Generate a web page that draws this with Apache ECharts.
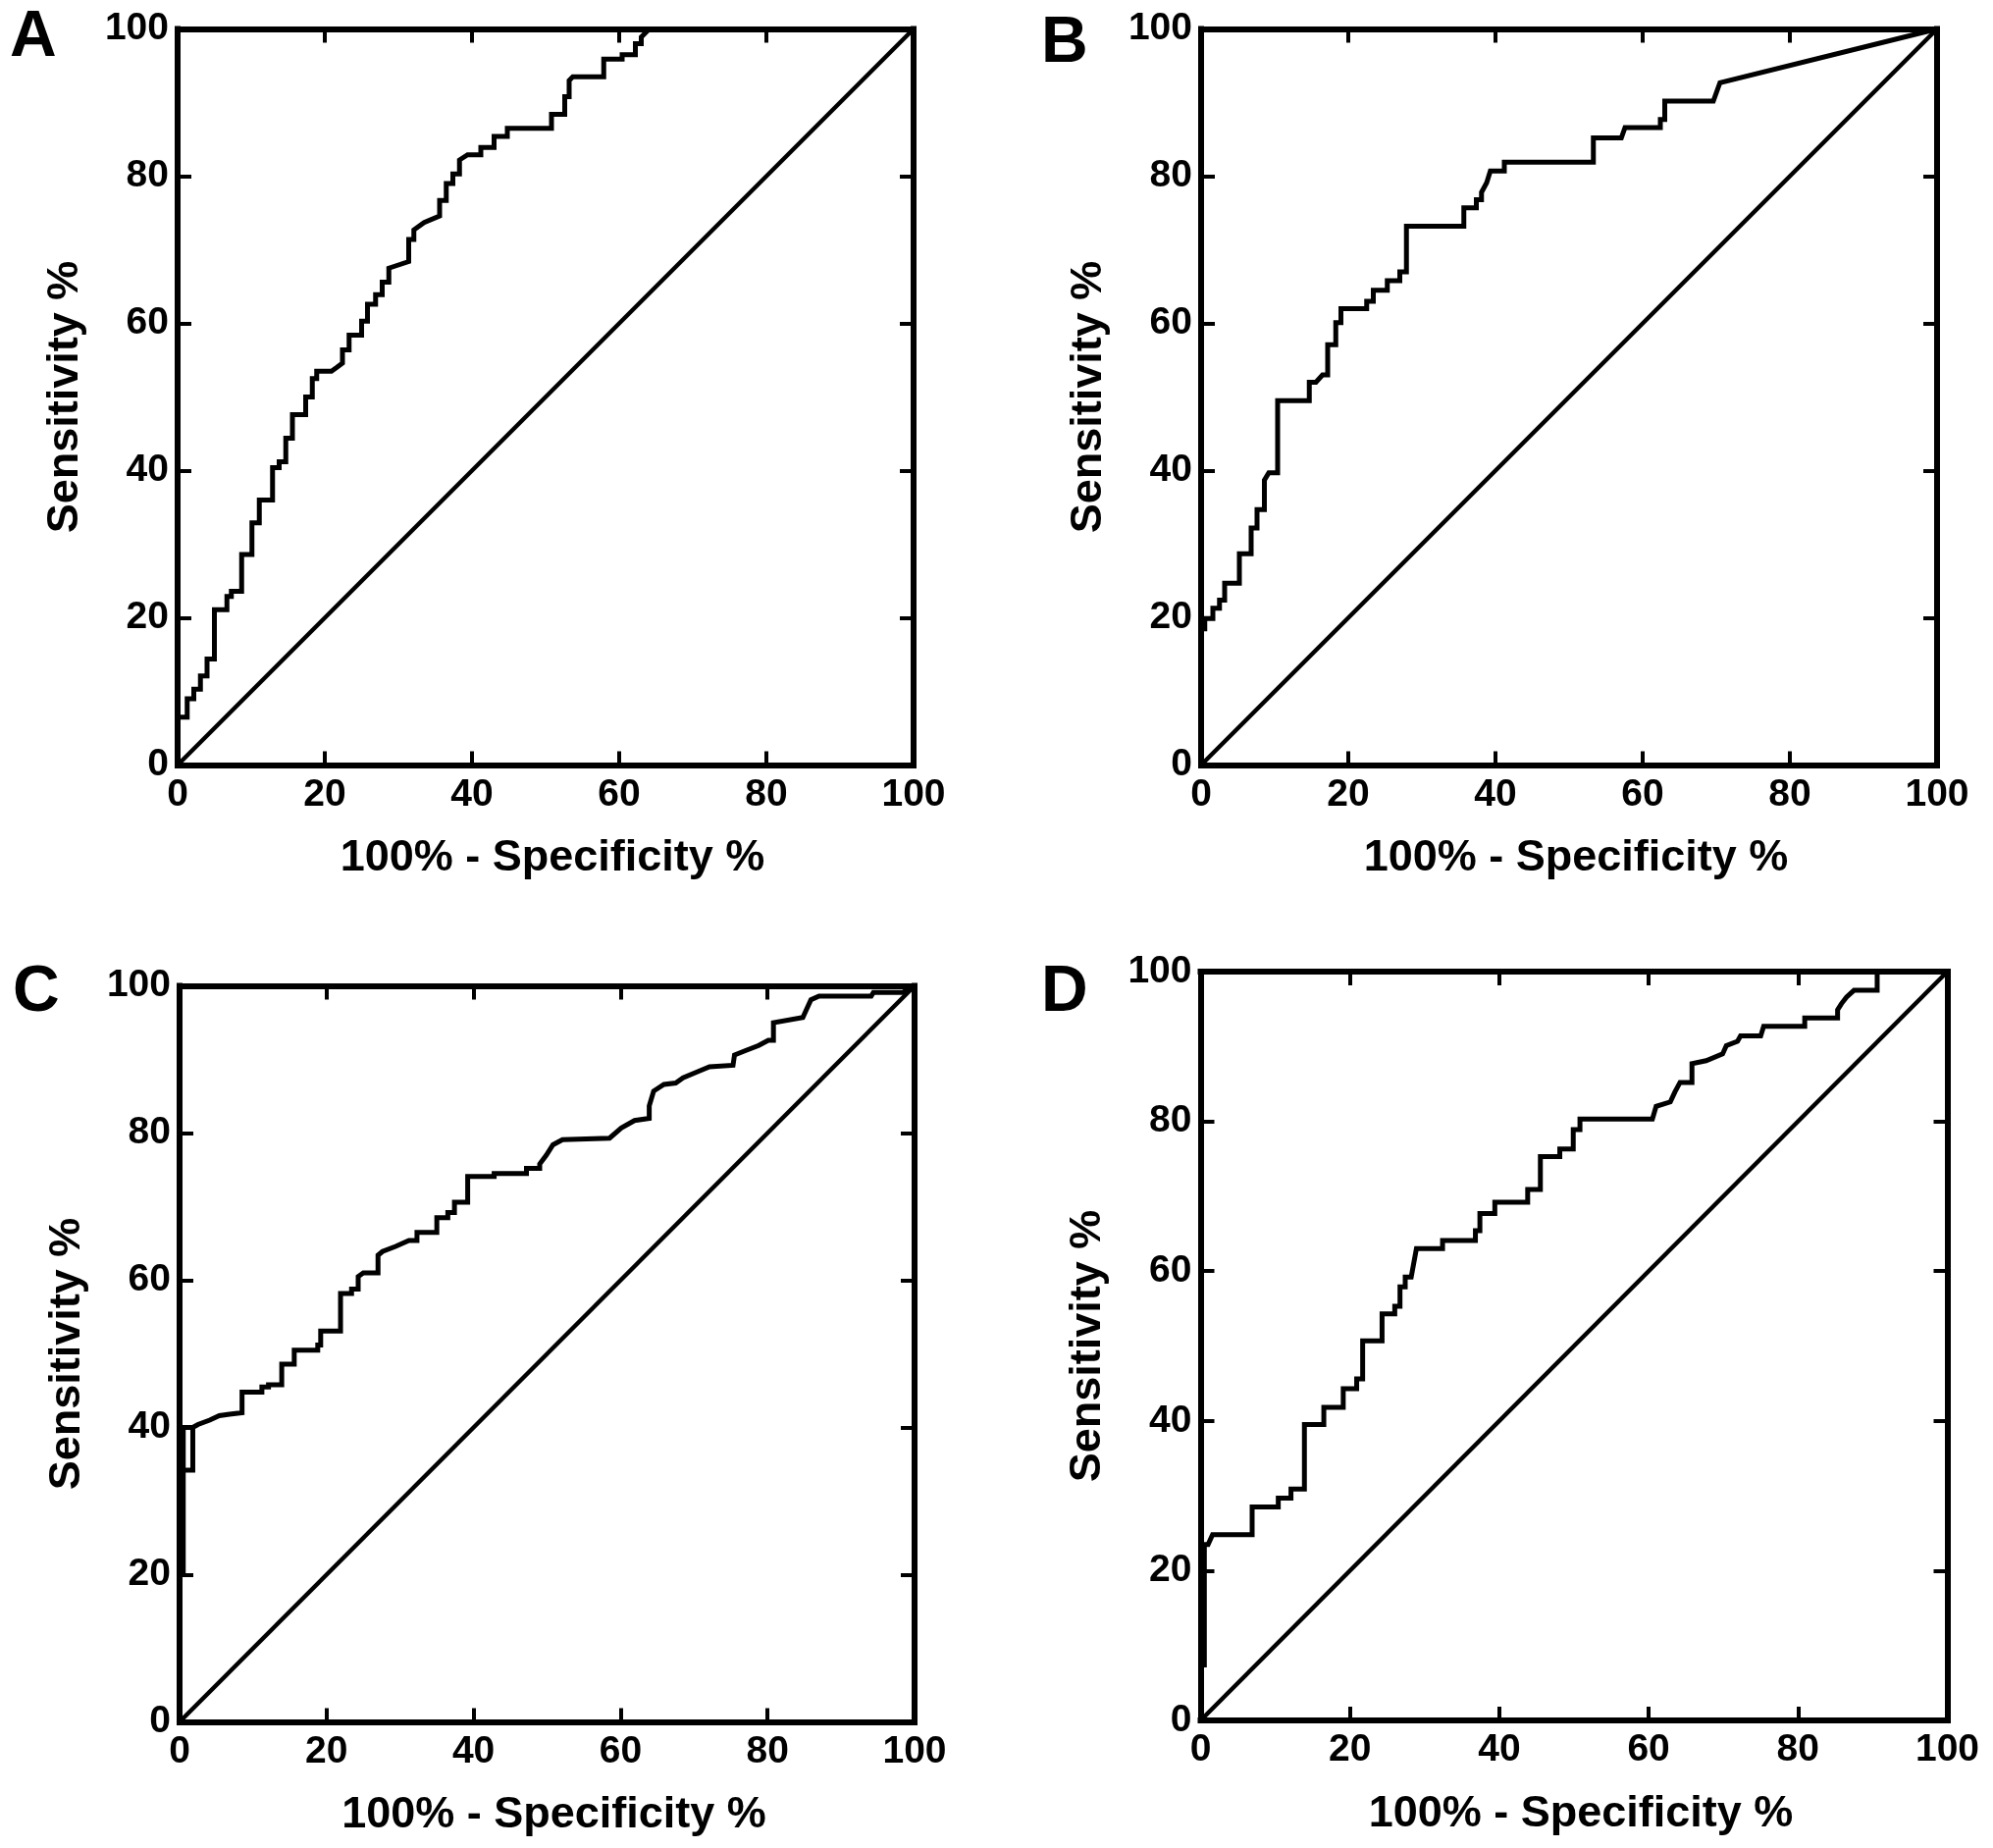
<!DOCTYPE html>
<html>
<head>
<meta charset="utf-8">
<script src="https://cdn.jsdelivr.net/npm/echarts@6/dist/echarts.min.js"></script>
<style>
html,body{margin:0;padding:0;background:#fff;}
#chart{width:2031px;height:1883px;}
</style>
</head>
<body>
<div id="chart"></div>
<script>
// ---- data (x = 100% - Specificity %, y = Sensitivity %) ----
const panelLabels = ['A', 'B', 'C', 'D'];
const xTitle = '100% - Specificity %';
const yTitle = 'Sensitivity %';
const axisMin = 0, axisMax = 100, axisStep = 20;

const rocA = [[0,0],[0,6.5],[1.3,6.5],[1.3,9.0],[2.2,9.0],[2.2,10.3],[3.1,10.3],[3.1,12.1],[4.0,12.1],[4.0,14.4],[5.0,14.4],[5.0,21.1],[6.7,21.1],[6.7,22.9],[7.3,22.9],[7.3,23.6],[8.7,23.6],[8.7,28.6],[10.1,28.6],[10.1,32.9],[11.1,32.9],[11.1,36.0],[12.9,36.0],[12.9,40.4],[13.8,40.4],[13.8,41.2],[14.7,41.2],[14.7,44.4],[15.6,44.4],[15.6,47.6],[17.4,47.6],[17.4,50.0],[18.3,50.0],[18.3,52.5],[18.9,52.5],[18.9,53.5],[20.9,53.5],[21.6,54.0],[22.4,54.6],[22.4,56.4],[23.3,56.4],[23.3,58.4],[25.0,58.4],[25.0,60.3],[25.8,60.3],[25.8,62.6],[26.9,62.6],[26.9,63.9],[27.8,63.9],[27.8,65.6],[28.7,65.6],[28.7,67.5],[29.6,67.8],[31.4,68.4],[31.4,71.4],[32.1,71.4],[32.1,72.7],[33.5,73.7],[35.6,74.6],[35.6,76.7],[36.5,76.7],[36.5,79.0],[37.4,79.0],[37.4,80.3],[38.3,80.3],[38.3,82.2],[39.4,82.9],[41.2,82.9],[41.2,83.9],[43.0,83.9],[43.0,85.4],[44.8,85.4],[44.8,86.5],[50.8,86.5],[50.8,88.4],[52.6,88.4],[52.6,90.8],[53.2,90.8],[53.2,93.0],[53.7,93.5],[57.9,93.5],[57.9,95.9],[60.4,95.9],[60.4,96.5],[62.2,96.5],[62.2,98.0],[63.0,98.0],[63.0,98.9],[64.1,100],[100,100]];

const rocB = [[0,0],[0,18.5],[0.5,18.5],[0.5,19.9],[1.6,19.9],[1.6,21.3],[2.5,21.3],[2.5,22.4],[3.2,22.4],[3.2,24.7],[5.2,24.7],[5.2,28.7],[6.8,28.7],[6.8,32.2],[7.6,32.2],[7.6,34.7],[8.6,34.7],[8.6,38.7],[9.2,39.7],[10.4,39.7],[10.4,49.5],[14.7,49.5],[14.7,52.0],[15.6,52.0],[16.5,53.0],[17.2,53.0],[17.2,57.1],[18.3,57.1],[18.3,60.1],[19.0,60.1],[19.0,62.0],[22.5,62.0],[22.5,63.0],[23.4,63.0],[23.4,64.5],[25.3,64.5],[25.3,65.8],[27.0,65.8],[27.0,67.0],[27.9,67.0],[27.9,73.2],[35.7,73.2],[35.7,75.7],[37.4,75.7],[37.4,76.8],[38.1,76.8],[38.1,77.8],[38.8,79.1],[39.3,80.7],[41.2,80.7],[41.2,81.9],[53.3,81.9],[53.3,85.2],[57.1,85.2],[57.6,86.6],[62.4,86.6],[62.4,87.7],[63.0,87.7],[63.0,90.2],[69.6,90.2],[70.5,92.7],[100,100]];

const rocC = [[0,0],[0,20.3],[0.5,20.3],[0.5,34.2],[1.8,34.2],[1.8,40.0],[0.5,40.0],[0.5,34.2],[0.5,40.0],[1.8,40.0],[2.5,40.4],[4.1,41.0],[5.4,41.6],[6.8,41.8],[8.5,42.0],[8.5,44.8],[11.2,44.8],[11.2,45.5],[12.1,45.5],[12.1,45.8],[13.9,45.8],[13.9,48.6],[15.6,48.6],[15.6,50.5],[18.8,50.5],[18.8,51.2],[19.2,51.2],[19.2,53.1],[21.9,53.1],[21.9,58.2],[23.4,58.2],[23.4,58.8],[24.3,58.8],[24.3,60.5],[25.0,61.0],[27.0,61.0],[27.0,63.4],[27.6,63.9],[29.4,64.6],[31.2,65.4],[32.3,65.4],[32.3,66.5],[35.0,66.5],[35.0,68.5],[36.5,68.5],[36.5,69.2],[37.4,69.2],[37.4,70.6],[39.2,70.6],[39.2,74.1],[42.8,74.1],[42.8,74.5],[47.2,74.5],[47.2,75.2],[49.0,75.2],[49.0,75.8],[49.9,77.0],[50.8,78.4],[52.1,79.1],[58.5,79.3],[60.1,80.7],[61.9,81.7],[63.9,82.0],[63.9,83.7],[64.5,85.7],[65.9,86.6],[67.5,86.8],[68.5,87.5],[70.4,88.3],[72.1,89.0],[75.3,89.2],[75.5,90.6],[77.0,91.2],[78.8,91.9],[80.1,92.6],[80.8,92.6],[80.8,95.0],[84.8,95.7],[85.3,96.8],[85.9,98.1],[87.0,98.6],[94.1,98.6],[94.4,99.1],[98.4,99.1],[100,100]];

const rocD = [[0,0],[0,7.4],[0.5,7.4],[0.5,23.5],[1.0,23.5],[1.6,24.8],[6.9,24.8],[6.9,28.5],[10.4,28.5],[10.4,29.7],[12.1,29.7],[12.1,30.9],[13.9,30.9],[13.9,39.5],[16.5,39.5],[16.5,41.8],[19.1,41.8],[19.1,44.3],[20.9,44.3],[20.9,45.6],[21.7,45.6],[21.7,50.7],[24.3,50.7],[24.3,54.3],[26.0,54.3],[26.0,55.3],[26.7,55.3],[26.7,57.9],[27.4,57.9],[27.4,59.2],[28.2,59.2],[28.9,63.0],[32.4,63.0],[32.4,64.1],[36.8,64.1],[36.8,65.4],[37.4,65.4],[37.4,67.7],[39.4,67.7],[39.4,69.2],[43.8,69.2],[43.8,70.9],[45.5,70.9],[45.5,75.3],[48.1,75.3],[48.1,76.3],[49.9,76.3],[49.9,78.9],[50.8,78.9],[50.8,80.3],[60.5,80.3],[61.0,82.0],[62.9,82.6],[63.5,83.9],[64.2,85.2],[65.8,85.2],[65.8,87.7],[67.7,88.1],[69.9,89.0],[70.4,90.1],[71.9,90.7],[72.3,91.4],[75.0,91.4],[75.4,92.7],[80.9,92.7],[80.9,93.8],[85.3,93.8],[85.3,94.9],[85.8,95.7],[86.5,96.6],[87.5,97.5],[90.6,97.5],[90.6,100],[100,100]];

const referenceLine = [[0,0],[100,100]];

// ---- layout ----
const FONT = 'Liberation Sans, Arial, Helvetica, sans-serif';
const grids = [
  {left: 181, top: 29.5, width: 750, height: 750},
  {left: 1224, top: 29.5, width: 750, height: 750},
  {left: 183, top: 1004.5, width: 749, height: 750},
  {left: 1223.5, top: 990, width: 761, height: 763}
];
const letterPos = [[10, 6], [1061, 12], [13, 979], [1061, 979]];
const curves = [rocA, rocB, rocC, rocD];

const axisLine = {show: true, onZero: false, lineStyle: {color: '#000', width: 6, cap: 'square'}};
const axisTick = {show: true, inside: true, length: 14, lineStyle: {color: '#000', width: 4}};
const labelStyle = {color: '#000', fontSize: 39, fontWeight: 'bold', fontFamily: FONT};

const xAxis = [], yAxis = [], series = [], graphic = [];
grids.forEach((g, i) => {
  xAxis.push({
    gridIndex: i, type: 'value', position: 'bottom', min: axisMin, max: axisMax, interval: axisStep,
    axisLine, axisTick, splitLine: {show: false},
    axisLabel: Object.assign({margin: 11}, labelStyle),
    name: xTitle, nameLocation: 'middle', nameGap: 73,
    nameTextStyle: {color: '#000', fontSize: 45, fontWeight: 'bold', fontFamily: FONT, padding: [0, 0, 0, 14]}
  });
  xAxis.push({
    gridIndex: i, type: 'value', position: 'top', min: axisMin, max: axisMax, interval: axisStep,
    axisLine, axisTick, splitLine: {show: false}, axisLabel: {show: false}
  });
  yAxis.push({
    gridIndex: i, type: 'value', position: 'left', min: axisMin, max: axisMax, interval: axisStep,
    axisLine, axisTick, splitLine: {show: false},
    axisLabel: Object.assign({margin: 9}, labelStyle),
    name: yTitle, nameLocation: 'middle', nameGap: 92, nameRotate: 90,
    nameTextStyle: {color: '#000', fontSize: 45, fontWeight: 'bold', fontFamily: FONT}
  });
  yAxis.push({
    gridIndex: i, type: 'value', position: 'right', min: axisMin, max: axisMax, interval: axisStep,
    axisLine, axisTick, splitLine: {show: false}, axisLabel: {show: false}
  });
  series.push({
    type: 'line', xAxisIndex: 2 * i, yAxisIndex: 2 * i, data: referenceLine,
    showSymbol: false, symbol: 'none', clip: false, silent: true,
    lineStyle: {color: '#000', width: 4.5}
  });
  series.push({
    type: 'line', xAxisIndex: 2 * i, yAxisIndex: 2 * i, data: curves[i],
    showSymbol: false, symbol: 'none', clip: false, silent: true,
    lineStyle: {color: '#000', width: 5, join: 'miter'}
  });
  graphic.push({
    type: 'text', left: letterPos[i][0], top: letterPos[i][1],
    style: {text: panelLabels[i], fill: '#000', font: 'bold 66px ' + FONT}
  });
});

const chart = echarts.init(document.getElementById('chart'), null, {renderer: 'canvas'});
chart.setOption({
  animation: false,
  backgroundColor: '#fff',
  grid: grids.map(g => Object.assign({containLabel: false}, g)),
  xAxis, yAxis, series, graphic
});
</script>
</body>
</html>
